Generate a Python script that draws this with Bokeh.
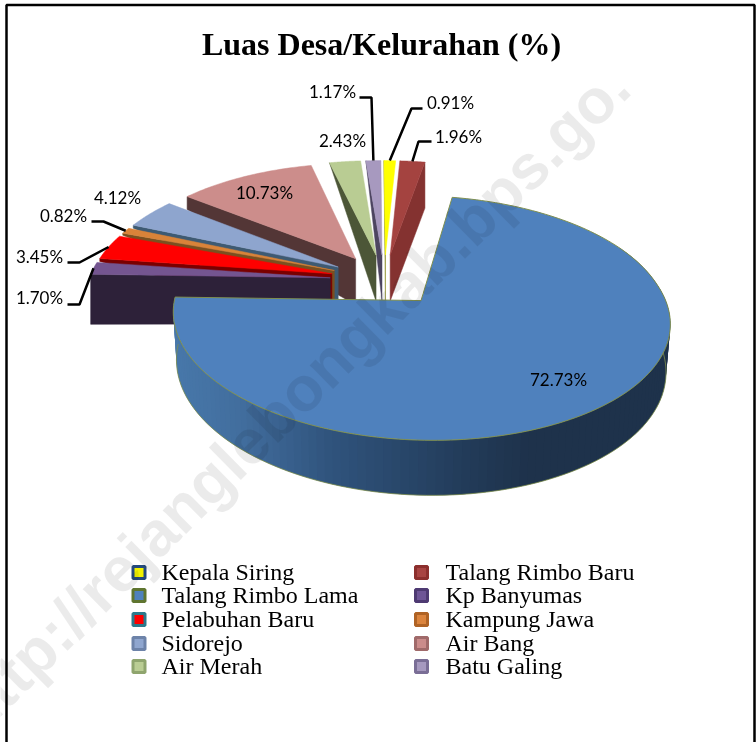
import numpy as np
from bokeh.plotting import figure
from bokeh.models import Range1d
from bokeh.embed import file_html
from bokeh.resources import INLINE
from bokeh.core.properties import value

# ---- data (legend order = clockwise pie order) ----
categories = ["Kepala Siring", "Talang Rimbo Baru", "Talang Rimbo Lama", "Kp Banyumas", "Pelabuhan Baru",
              "Kampung Jawa", "Sidorejo", "Air Bang", "Air Merah", "Batu Galing"]
values = [0.91, 1.96, 72.73, 1.70, 3.45, 0.82, 4.12, 10.73, 2.43, 1.17]
labels = ["0.91%", "1.96%", "72.73%", "1.70%", "3.45%", "0.82%", "4.12%", "10.73%", "2.43%", "1.17%"]
legend_col1 = ["Kepala Siring", "Talang Rimbo Lama", "Pelabuhan Baru", "Sidorejo", "Air Merah"]
legend_col2 = ["Talang Rimbo Baru", "Kp Banyumas", "Kampung Jawa", "Air Bang", "Batu Galing"]
title = "Luas Desa/Kelurahan (%)"
watermark = "http://rejanglebongkab.bps.go."

# ---- styles ----
top_color = dict(zip(categories, ["#FFFF00", "#A44340", "#4F81BD", "#745590", "#FF0000",
                                  "#D98339", "#8EA5CE", "#CC8D8B", "#B9CC93", "#A799BF"]))
side_color = dict(zip(categories, ["#8A8A20", "#843230", "#1F3550", "#2D2139", "#7A0000",
                                   "#7A5020", "#3E5A72", "#533636", "#4C5637", "#4D4560"]))
legend_border = dict(zip(categories, ["#254A7C", "#8C2F2D", "#5F7530", "#4E3A72", "#2C7A8C",
                                      "#AF6325", "#6D83A9", "#A06A6A", "#8FA56E", "#7A6E96"]))
legend_fill = dict(zip(categories, ["#F2F200", "#A84442", "#4F81BD", "#6E5596", "#FF0000",
                                    "#DB843D", "#8FA6CF", "#CB8C8B", "#BACD94", "#A699BF"]))
corner_depth = dict(zip(categories, [0, 46, 0, 50, 3, 2, 3, 13, 0, 0]))

# ---- projection of the exploded pie ----
CX, Y0, R, K, A, EXPL, DEPTH = 384.0, 279.5, 240.0, 114.0, 0.14, 0.227, 46.0
SHEAR, TILT = 6.0, 3.5

def proj(u, v, d=0.0):
    u = np.asarray(u, dtype=float)
    v = np.asarray(v, dtype=float)
    f = 1 + A * v
    shrink = 1 - 0.015 * (d > 0)
    x = CX + shrink * R * u / f + SHEAR * np.maximum(v, 0)
    y = Y0 - K * v / f + TILT * u + d / f
    return x, y

def offset(mid):
    a = np.radians(mid)
    return EXPL * np.sin(a), EXPL * np.cos(a)

def rim(theta, mid, r=1.0):
    a = np.radians(theta)
    ou, ov = offset(mid)
    return ou + r * np.sin(a), ov + r * np.cos(a)

scale = 360.0 / sum(values)
start = 270.0 - (values[0] + values[1] + values[2]) * scale
spans = {}
t = start
for c, val in zip(categories, values):
    spans[c] = (t, t + val * scale)
    t += val * scale

p = figure(width=756, height=742, output_backend="svg", toolbar_location=None,
           x_range=Range1d(0, 756), y_range=Range1d(742, 0),
           x_axis_type=None, y_axis_type=None, min_border=0,
           background_fill_color="white", border_fill_color="white",
           styles={"position": "fixed", "left": "0px", "top": "0px"})
p.outline_line_color = None
p.grid.visible = False

# frame
p.line([6, 6, 754, 754], [742, 4.5, 4.5, 742], line_color="black", line_width=2.5)

def draw_slice(c):
    a0, a1 = spans[c]
    mid = (a0 + a1) / 2
    ou, ov = offset(mid)
    ax, ay = proj(ou, ov)
    corner = a1 if c == "Talang Rimbo Baru" else a0
    cu, cv = rim(corner, mid)
    tx, ty = proj(cu, cv)
    d = corner_depth[c]
    p.patch([float(tx), float(ax), float(ax), float(tx)],
            [float(ty), float(ay), float(ay + DEPTH), float(ty + d)],
            fill_color=side_color[c], line_color=side_color[c], line_width=0.5)
    th = np.linspace(a0, a1, 40)
    u, v = rim(th, mid)
    x, y = proj(u, v)
    p.patch(list(x) + [float(ax)], list(y) + [float(ay)],
            fill_color=top_color[c], line_color=top_color[c], line_width=0.5)

back_order = ["Talang Rimbo Baru", "Kepala Siring", "Batu Galing", "Air Merah", "Air Bang",
              "Sidorejo", "Kampung Jawa", "Pelabuhan Baru", "Kp Banyumas"]
for c in back_order:
    draw_slice(c)

# main slice: side wall as shaded strips (each overlapping the next), then its top face
main = "Talang Rimbo Lama"
a0, a1 = spans[main]
mid = (a0 + a1) / 2
stop_x = [175, 240, 330, 465, 530, 670]
stop_rgb = np.array([[72, 120, 170], [66, 110, 158], [48, 84, 125], [35, 60, 90], [30, 50, 75], [30, 50, 75]])
th = np.linspace(60, a1, 120)
u, v = rim(th, mid)
xt, yt = proj(u, v)
xb, yb = proj(u, v, DEPTH)
for i in range(len(th) - 1):
    j = min(i + 2, len(th) - 1)
    xm = (xt[i] + xt[i + 1]) / 2
    col = [int(np.interp(xm, stop_x, stop_rgb[:, k])) for k in range(3)]
    hexc = "#%02x%02x%02x" % tuple(col)
    p.patch([xt[i], xt[j], xb[j], xb[i]], [yt[i], yt[j], yb[j], yb[i]],
            fill_color=hexc, line_color=None)
keep = th >= 85
p.line(xb[keep], yb[keep], line_color="#7F8F4F", line_width=0.8)
ou, ov = offset(mid)
ax, ay = proj(ou, ov)
th = np.linspace(a0, a1, 200)
u, v = rim(th, mid)
x, y = proj(u, v)
p.patch(list(x) + [float(ax)], list(y) + [float(ay)], fill_color=top_color[main],
        line_color="#7F8F4F", line_width=1)

# leader lines: (category, text-side end, elbow)
leaders = [("Batu Galing", (359, 97), (371, 97)), ("Kepala Siring", (422, 108), (411, 108)),
           ("Talang Rimbo Baru", (431, 141), (418, 141)), ("Kampung Jawa", (91, 221), (103, 221)),
           ("Pelabuhan Baru", (67, 262), (79, 262)), ("Kp Banyumas", (67, 304), (79, 304))]
for c, e0, e1 in leaders:
    a0, a1 = spans[c]
    m = (a0 + a1) / 2
    u, v = rim(m, m)
    x, y = proj(u, v)
    p.line([e0[0], e1[0], float(x)], [e0[1], e1[1], float(y)], line_color="black", line_width=2.5)

# data labels
label_pos = dict(zip(categories, [(450, 102), (458, 136), (558, 379), (39, 297), (39, 256),
                                  (63, 215), (117, 197), (264, 192), (342, 140), (332, 91)]))
lx = [label_pos[c][0] for c in categories]
ly = [label_pos[c][1] for c in categories]
p.text(lx, ly, text=labels, text_font=value("Lato"), text_font_size="17px", text_color="black",
       text_align="center", text_baseline="middle")

p.text([381], [43], text=[title], text_font=value("Liberation Serif"), text_font_style="bold",
       text_font_size="32px", text_color="black", text_align="center", text_baseline="middle")

# legend
rows_y = [572, 595, 619, 643, 666]
for names, sx, tx in ((legend_col1, 138.5, 161), (legend_col2, 421, 445)):
    p.scatter([sx] * 5, rows_y, marker="square", size=12,
              fill_color=[legend_fill[n] for n in names], line_color=[legend_border[n] for n in names],
              line_width=3)
    p.text([tx] * 5, [y - 1 for y in rows_y], text=names, text_font=value("Liberation Serif"),
           text_font_size="24px", text_color="black", text_align="left", text_baseline="middle")

# watermark
p.text([618], [76], text=[watermark], text_font=value("Liberation Sans"), text_font_style="bold",
       text_font_size="63px", text_color="black", text_alpha=0.08, angle=np.radians(44.6),
       text_align="right", text_baseline="middle")

open("out.html", "w").write(file_html(p, INLINE))
